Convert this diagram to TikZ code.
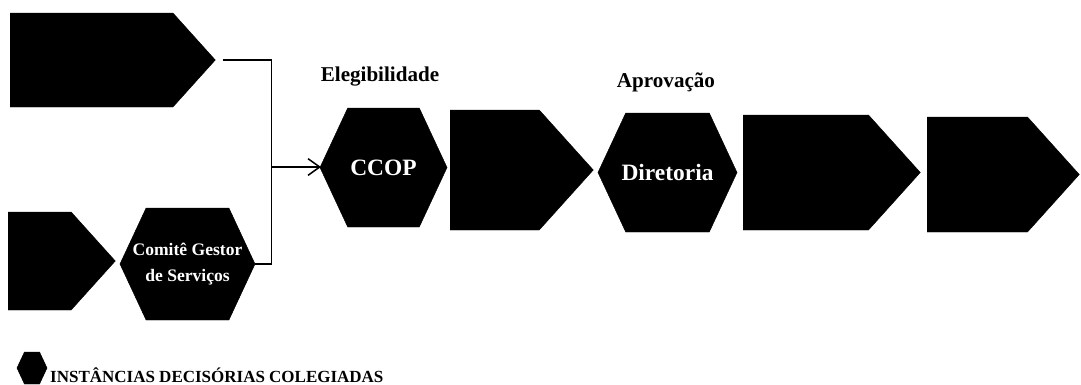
\documentclass[tikz,border=0pt]{standalone}
\usepackage{fontspec}
\setmainfont{Liberation Serif}
\usetikzlibrary{arrows.meta,shapes.symbols}

\begin{document}
\begin{tikzpicture}[x=0.03cm,y=-0.03cm,
  stage/.style={signal, signal to=east, signal pointer angle=96,
    fill=black, draw=black, inner sep=0pt, anchor=west},
  board/.style={signal, signal to=east and west, signal pointer angle=130,
    fill=black, draw=black, inner sep=0pt},
  inboard/.style={text=white, align=center, inner sep=0pt,
    font=\fontsize{20}{22}\selectfont\bfseries},
  link/.style={line width=1.3pt, black},
  phase/.style={font=\fontsize{18}{20}\selectfont\bfseries}]
  \useasboundingbox (0,0) rectangle (1081,384);

  % Entry stages
  \node[stage, minimum width=205*0.03cm, minimum height=94*0.03cm] (entry) at (10,60) {};
  \node[stage, minimum width=107*0.03cm, minimum height=98*0.03cm] (request) at (8,261) {};
  \node[board, minimum width=135*0.03cm, minimum height=112*0.03cm,
    label={[inboard, font=\fontsize{15}{22}\selectfont\bfseries]center:Comitê Gestor\\de Serviços}]
    (committee) at (187.5,264) {};

  % Merge into the flow
  \draw[link] (entry.east) ++(7,0) coordinate (out) -- ++(49,0) coordinate (bend) |- (committee.east);
  \coordinate (merge) at (bend |- 0,167);
  \draw[link,-{Straight Barb[length=3.5mm,width=5mm]}] (merge) -- (321,167) coordinate (in);

  % Main flow
  \node[board, minimum width=127*0.03cm, minimum height=119*0.03cm,
    label={[inboard]center:CCOP}] (ccop) at (383.5,167.5) {};
  \node[stage, minimum width=143*0.03cm, minimum height=120*0.03cm] (check) at (450,170) {};
  \node[board, minimum width=139*0.03cm, minimum height=119*0.03cm,
    label={[inboard]center:Diretoria}] (board) at (667.5,172.5) {};
  \node[stage, minimum width=177*0.03cm, minimum height=115*0.03cm] (contract) at (743,172.5) {};
  \node[stage, minimum width=152*0.03cm, minimum height=115*0.03cm] (release) at (927,174.5) {};

  % Phase labels
  \node[phase] (elegib) at (380,77) {Elegibilidade};
  \node[phase] (aprov) at (666,82) {Aprovação};

  % Legend
  \node[board, minimum width=30*0.03cm, minimum height=32*0.03cm] (keyhex) at (32,368) {};
  \node[anchor=west, font=\fontsize{14.5}{16}\selectfont\bfseries, inner sep=0pt]
    (keytext) at (50,375) {INSTÂNCIAS DECISÓRIAS COLEGIADAS};
\end{tikzpicture}
\end{document}
